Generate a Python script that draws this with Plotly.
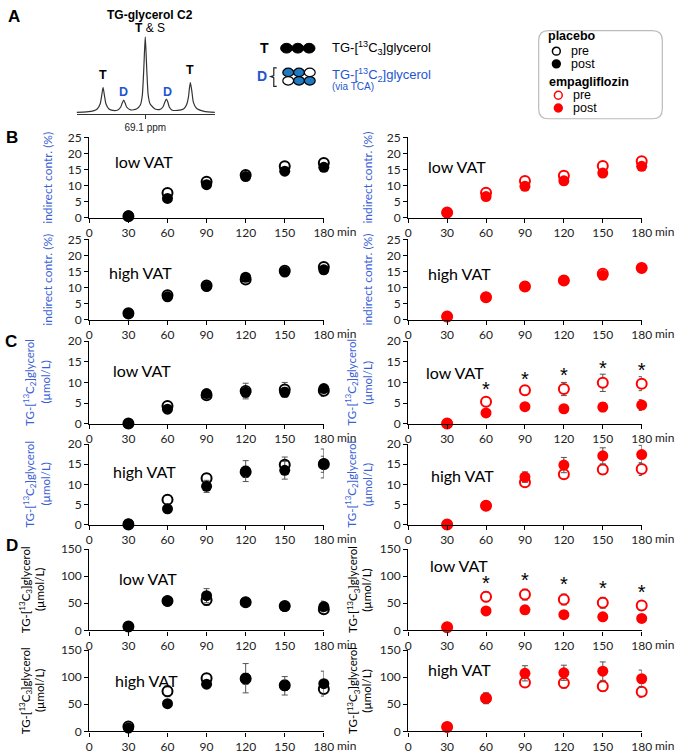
import plotly.graph_objects as go

W, H = 688, 756
FONT = "Lato"
AFONT = "Liberation Sans"
BLUE_T = "#3b5fd6"
BLUE_A = "#1f55d0"
BLUE_C = "#1f7ac2"
RED = "#ff0000"

times = [30, 60, 90, 120, 150, 180]

# ---- B: indirect contribution (%) ----
b_pla_low_pre = [0.5, 7.7, 11.2, 13.3, 16.0, 17.0]
b_pla_low_pre_err = [0.3, 0.6, 0.7, 0.6, 0.8, 1.1]
b_pla_low_post = [0.6, 6.0, 10.3, 12.8, 14.5, 15.7]
b_pla_low_post_err = [0.3, 0.5, 0.6, 0.6, 0.6, 0.8]
b_pla_high_pre = [2.0, 7.6, 10.6, 12.5, 15.2, 16.4]
b_pla_high_pre_err = [0.4, 0.5, 0.5, 0.6, 0.8, 0.9]
b_pla_high_post = [1.8, 7.1, 10.3, 13.2, 14.8, 15.5]
b_pla_high_post_err = [0.4, 0.5, 0.5, 0.6, 1.1, 1.3]
b_emp_low_pre = [1.6, 7.8, 11.4, 13.1, 16.1, 17.6]
b_emp_low_pre_err = [0.5, 0.6, 0.7, 0.6, 0.7, 1.1]
b_emp_low_post = [1.5, 6.6, 9.8, 11.5, 13.9, 16.0]
b_emp_low_post_err = [1.3, 0.5, 0.5, 0.6, 0.7, 0.7]
b_emp_high_pre = [1.0, 7.0, 10.3, 12.2, 14.3, 16.1]
b_emp_high_pre_err = [0.3, 0.4, 0.5, 0.6, 0.7, 0.7]
b_emp_high_post = [0.9, 7.0, 10.3, 12.2, 13.8, 16.1]
b_emp_high_post_err = [0.3, 0.4, 0.5, 0.6, 0.7, 0.7]

# ---- C: TG-[13C2]glycerol (umol/L) ----
c_pla_low_pre = [0, 4.3, 6.9, 7.9, 8.3, 8.0]
c_pla_low_pre_err = [0, 0.4, 0.5, 1.9, 1.7, 1.4]
c_pla_low_post = [0, 3.5, 7.3, 7.6, 7.6, 8.5]
c_pla_low_post_err = [0, 0.3, 0.4, 1.2, 1.2, 0.9]
c_pla_high_pre = [0, 6.2, 11.5, 13.1, 14.9, 15.0]
c_pla_high_pre_err = [0, 0.8, 1.1, 1.4, 1.9, 2.0]
c_pla_high_post = [0.2, 3.9, 9.5, 13.3, 13.5, 15.2]
c_pla_high_post_err = [0, 0.3, 1.5, 2.6, 2.2, 3.6]
c_emp_low_pre = [0, 5.3, 8.1, 8.4, 9.9, 9.7]
c_emp_low_pre_err = [0, 0.9, 1.1, 1.6, 2.1, 1.7]
c_emp_low_post = [0, 2.6, 4.1, 3.6, 4.0, 4.5]
c_emp_low_post_err = [0, 0.4, 0.6, 0.6, 1.1, 1.3]
c_emp_low_stars = [None, 7.9, 10.4, 11.4, 13.0, 12.6]
c_emp_high_pre = [0, 4.7, 10.5, 12.5, 13.7, 13.8]
c_emp_high_pre_err = [0, 0.5, 0.9, 1.0, 1.2, 1.6]
c_emp_high_post = [0, 4.7, 11.8, 14.8, 17.1, 17.4]
c_emp_high_post_err = [0, 0.9, 1.3, 1.9, 2.0, 2.3]

# ---- D: TG-[13C3]glycerol (umol/L) ----
d_pla_low_pre = [7, 54, 56, 52, 45, 39]
d_pla_low_pre_err = [2, 6, 10, 8, 7, 5]
d_pla_low_post = [7, 54, 64, 52, 44, 44]
d_pla_low_post_err = [2, 8, 13, 8, 7, 10]
d_pla_high_pre = [9, 74, 98, 97, 85, 78]
d_pla_high_pre_err = [2, 10, 4, 10, 9, 7]
d_pla_high_post = [6, 51, 87, 98, 84, 88]
d_pla_high_post_err = [2, 4, 4, 27, 17, 23]
d_emp_low_pre = [6, 62, 66, 57, 51, 46]
d_emp_low_pre_err = [1, 9, 10, 10, 10, 9]
d_emp_low_post = [6, 36, 38, 29, 25, 22]
d_emp_low_post_err = [1, 6, 7, 7, 6, 5]
d_emp_low_stars = [None, 83, 90, 81, 75, 68]
d_emp_high_pre = [8, 61, 90, 89, 83, 73]
d_emp_high_pre_err = [2, 6, 7, 9, 9, 10]
d_emp_high_post = [8, 61, 107, 108, 111, 97]
d_emp_high_post_err = [3, 10, 14, 14, 17, 16]

# ---- A: spectrum trace (x in px-like units, height) ----
spec_x = [75, 85, 92, 96, 99, 100.5, 102, 103.5, 105, 108, 112, 117, 120, 121.5, 123, 124.5,
          126, 130, 136, 140, 142, 143.5, 145, 146.5, 148, 150, 155, 160, 163, 165, 166.5,
          168, 169.5, 172, 178, 184, 187, 189, 190, 191, 192.5, 194, 197, 205, 216]
spec_y = [0.5, 1, 2, 4, 9, 17, 26, 17, 9, 4, 2.5, 3, 6, 10, 13, 10,
          6, 3, 4, 8, 18, 45, 78, 45, 18, 9, 4, 3.5, 6, 11, 14,
          11, 6, 3, 2.5, 4, 8, 16, 25, 31, 22, 11, 5, 1.5, 0.5]

xticks = [0, 30, 60, 90, 120, 150, 180]

col_px = [(88, 327), (413, 651)]
row_px = [(132, 214), (236, 318), (340, 424), (445, 527), (552, 635), (655, 738)]
yranges = [[0, 25], [0, 25], [0, 20], [0, 20], [0, 150], [0, 150]]
ydticks = [5, 5, 5, 5, 50, 50]

# (row, col, pre, pre_err, post, post_err, stars, label, label_x, label_y)
panels = [
    (0, 0, b_pla_low_pre, b_pla_low_pre_err, b_pla_low_post, b_pla_low_post_err, None, "low VAT", 18, 17.4),
    (0, 1, b_emp_low_pre, b_emp_low_pre_err, b_emp_low_post, b_emp_low_post_err, None, "low VAT", 14, 15.8),
    (1, 0, b_pla_high_pre, b_pla_high_pre_err, b_pla_high_post, b_pla_high_post_err, None, "high VAT", 13.5, 14.6),
    (1, 1, b_emp_high_pre, b_emp_high_pre_err, b_emp_high_post, b_emp_high_post_err, None, "high VAT", 14, 14.4),
    (2, 0, c_pla_low_pre, c_pla_low_pre_err, c_pla_low_post, c_pla_low_post_err, None, "low VAT", 16.6, 12.9),
    (2, 1, c_emp_low_pre, c_emp_low_pre_err, c_emp_low_post, c_emp_low_post_err, c_emp_low_stars, "low VAT", 12, 12.4),
    (3, 0, c_pla_high_pre, c_pla_high_pre_err, c_pla_high_post, c_pla_high_post_err, None, "high VAT", 17, 13.2),
    (3, 1, c_emp_high_pre, c_emp_high_pre_err, c_emp_high_post, c_emp_high_post_err, None, "high VAT", 16.4, 12.3),
    (4, 0, d_pla_low_pre, d_pla_low_pre_err, d_pla_low_post, d_pla_low_post_err, None, "low VAT", 21, 96),
    (4, 1, d_emp_low_pre, d_emp_low_pre_err, d_emp_low_post, d_emp_low_post_err, d_emp_low_stars, "low VAT", 15, 120),
    (5, 0, d_pla_high_pre, d_pla_high_pre_err, d_pla_high_post, d_pla_high_post_err, None, "high VAT", 17.8, 94),
    (5, 1, d_emp_high_pre, d_emp_high_pre_err, d_emp_high_post, d_emp_high_post_err, None, "high VAT", 13.8, 114),
]


def px(x):
    return x / W


def py(y):
    return 1 - y / H


fig = go.Figure()
layout = {}
annotations = []
shapes = []

for k, (row, col, pre, pre_err, post, post_err, stars, label, lx, ly) in enumerate(panels, start=1):
    color = "black" if col == 0 else RED
    xs = "" if k == 1 else str(k)
    x0, x1 = col_px[col]
    y0, y1 = row_px[row]
    layout["xaxis" + xs] = dict(
        domain=[px(x0), px(x1)], range=[0, 180], tickvals=xticks, ticks="outside", ticklen=4,
        tickcolor="black", showline=True, linecolor="black", linewidth=1.3, showgrid=False,
        zeroline=False, anchor="y" + xs, tickfont=dict(family=FONT, size=12, color="#222"),
    )
    layout["yaxis" + xs] = dict(
        domain=[py(y1), py(y0)], range=yranges[row], dtick=ydticks[row], ticks="outside", ticklen=4,
        tickcolor="black", showline=True, linecolor="black", linewidth=1.3, showgrid=False,
        zeroline=False, anchor="x" + xs, tickfont=dict(family=FONT, size=12, color="#222"),
    )
    err_style = dict(type="data", color="#555", thickness=1, width=3)
    fig.add_trace(go.Scatter(
        x=times, y=pre, mode="markers", xaxis="x" + xs, yaxis="y" + xs, cliponaxis=False,
        marker=dict(symbol="circle", size=10, color="white", line=dict(color=color, width=2)),
        error_y=dict(array=pre_err, **err_style), showlegend=False,
    ))
    fig.add_trace(go.Scatter(
        x=times, y=post, mode="markers", xaxis="x" + xs, yaxis="y" + xs, cliponaxis=False,
        marker=dict(symbol="circle", size=11, color=color, line=dict(width=0)),
        error_y=dict(array=post_err, **err_style), showlegend=False,
    ))
    if stars is not None:
        fig.add_trace(go.Scatter(
            x=times, y=stars, mode="text", text=["*" if s is not None else "" for s in stars],
            textposition="middle center", textfont=dict(family=AFONT, size=20, color="black"),
            xaxis="x" + xs, yaxis="y" + xs, cliponaxis=False, showlegend=False,
        ))
    annotations.append(dict(
        x=lx, y=ly, xref="x" + xs, yref="y" + xs, text=label, showarrow=False,
        xanchor="left", yanchor="middle", font=dict(family=FONT, size=16, color="black"),
    ))
    annotations.append(dict(
        x=1, y=0, xref=f"x{xs} domain", yref=f"y{xs} domain", text="min", showarrow=False,
        xanchor="left", yanchor="middle", xshift=11, yshift=-14,
        font=dict(family=FONT, size=12, color="#222"),
    ))

# y-axis titles
for row in range(6):
    ymid = (row_px[row][0] + row_px[row][1]) / 2
    for col in range(2):
        if row < 2:
            annotations.append(dict(
                x=px([45, 372][col]), y=py(ymid), xref="paper", yref="paper", text="indirect contr. (%)",
                textangle=-90, showarrow=False, xanchor="center", yanchor="middle",
                font=dict(family=FONT, size=12, color=BLUE_T),
            ))
        else:
            sub = "2" if row < 4 else "3"
            tcol = BLUE_T if row < 4 else "black"
            lines_x = ([27, 43], [355, 371]) if row < 4 else ([23, 37], [357, 371])
            annotations.append(dict(
                x=px(lines_x[col][0]), y=py(ymid), xref="paper", yref="paper",
                text=f"TG-[<sup>13</sup>C<sub>{sub}</sub>]glycerol", textangle=-90, showarrow=False,
                xanchor="center", yanchor="middle", font=dict(family=FONT, size=11.5, color=tcol),
            ))
            annotations.append(dict(
                x=px(lines_x[col][1]), y=py(ymid), xref="paper", yref="paper",
                text="(µmol/L)", textangle=-90, showarrow=False,
                xanchor="center", yanchor="middle", font=dict(family=FONT, size=11.5, color=tcol),
            ))

# panel letters
for letter, (lx, ly) in zip("ABCD", [(11, 9), (9, 132), (8, 340), (9, 548)]):
    annotations.append(dict(
        x=px(lx), y=py(ly), xref="paper", yref="paper", text=f"<b>{letter}</b>", showarrow=False,
        xanchor="center", yanchor="middle", font=dict(family=AFONT, size=17, color="black"),
    ))

# ---- panel A: spectrum ----
fig.add_trace(go.Scatter(
    x=spec_x, y=spec_y, mode="lines", xaxis="x13", yaxis="y13", cliponaxis=False,
    line=dict(color="#333", width=1.2, shape="spline", smoothing=0.6), showlegend=False,
))
layout["xaxis13"] = dict(
    domain=[px(75), px(216)], range=[75, 216], tickvals=[145], ticktext=["69.1 ppm"],
    ticks="outside", ticklen=4, tickcolor="#333", showline=True, linecolor="#333", linewidth=1,
    showgrid=False, zeroline=False, anchor="y13", tickfont=dict(family=AFONT, size=10, color="#222"),
)
layout["yaxis13"] = dict(domain=[py(108), py(29)], range=[-1, 78], visible=False, anchor="x13")


def atext(x, y, text, size=12, color="black", xanchor="center"):
    annotations.append(dict(
        x=px(x), y=py(y), xref="paper", yref="paper", text=text, showarrow=False,
        xanchor=xanchor, yanchor="middle", font=dict(family=AFONT, size=size, color=color),
    ))


atext(150, 7, "<b>TG-glycerol C2</b>", 12)
atext(150, 20.5, "<b>T</b> & S", 12)
atext(102, 68, "<b>T</b>", 12.5)
atext(191, 63, "<b>T</b>", 12.5)
atext(123, 86, "<b>D</b>", 12.5, BLUE_A)
atext(168, 86, "<b>D</b>", 12.5, BLUE_A)

# isotopomer key
atext(267, 41, "<b>T</b>", 14)
for cx in [289, 300.5, 312]:
    shapes.append(dict(type="circle", xref="paper", yref="paper", x0=px(cx - 6), x1=px(cx + 6),
                       y0=py(46), y1=py(36), fillcolor="black", line=dict(color="black", width=1)))
atext(333, 41, "TG-[<sup>13</sup>C<sub>3</sub>]glycerol", 13, xanchor="left")
atext(264, 69, "<b>D</b>", 14, BLUE_A)
shapes.append(dict(type="path", xref="paper", yref="paper",
                   path=f"M {px(279)} {py(61)} L {px(276)} {py(61)} L {px(276)} {py(69)} L {px(273)} {py(70)} "
                        f"L {px(276)} {py(71)} L {px(276)} {py(80)} L {px(279)} {py(80)}",
                   line=dict(color="#222", width=1.2)))
grid_fill = [["b", "b", "w"], ["w", "b", "b"]]
for ri, cy in enumerate([65.7, 74.3]):
    for ci, cx in enumerate([290.7, 301.7, 312.7]):
        fc = BLUE_C if grid_fill[ri][ci] == "b" else "white"
        shapes.append(dict(type="circle", xref="paper", yref="paper", x0=px(cx - 5.5), x1=px(cx + 5.5),
                           y0=py(cy + 4.3), y1=py(cy - 4.3), fillcolor=fc, line=dict(color="black", width=1.2)))
atext(333, 68, "TG-[<sup>13</sup>C<sub>2</sub>]glycerol", 13, BLUE_A, xanchor="left")
atext(333, 80, "(via TCA)", 10, BLUE_A, xanchor="left")

# group legend box
bx0, bx1, by0, by1, r = 546, 672, 23, 113, 10
shapes.append(dict(
    type="path", xref="paper", yref="paper",
    path=(f"M {px(bx0 + r)} {py(by0)} L {px(bx1 - r)} {py(by0)} Q {px(bx1)} {py(by0)} {px(bx1)} {py(by0 + r)} "
          f"L {px(bx1)} {py(by1 - r)} Q {px(bx1)} {py(by1)} {px(bx1 - r)} {py(by1)} "
          f"L {px(bx0 + r)} {py(by1)} Q {px(bx0)} {py(by1)} {px(bx0)} {py(by1 - r)} "
          f"L {px(bx0)} {py(by0 + r)} Q {px(bx0)} {py(by0)} {px(bx0 + r)} {py(by0)} Z"),
    line=dict(color="#bbb", width=1.2),
))
atext(553, 29, "<b>placebo</b>", 12.5, xanchor="left")
atext(554, 75, "<b>empagliflozin</b>", 12.5, xanchor="left")
legend_items = [(564, 44, "black", False, "pre"), (564, 57, "black", True, "post"),
                (566, 89, RED, False, "pre"), (566, 102, RED, True, "post")]
for cx, cy, c, filled, name in legend_items:
    shapes.append(dict(type="circle", xref="paper", yref="paper", x0=px(cx - 4), x1=px(cx + 4),
                       y0=py(cy + 4), y1=py(cy - 4), fillcolor=c if filled else "white",
                       line=dict(color=c, width=1.5)))
    atext(cx + 13, cy, name, 12.5, xanchor="left")

fig.update_layout(
    width=W, height=H, margin=dict(l=0, r=0, t=0, b=0),
    paper_bgcolor="white", plot_bgcolor="white",
    annotations=annotations, shapes=shapes, showlegend=False,
    **layout,
)

# the page body has a default margin; drop it so the figure fills the window
fig.write_html("out.html", config={"displayModeBar": False},
               post_script="document.body.style.margin='0px';")
